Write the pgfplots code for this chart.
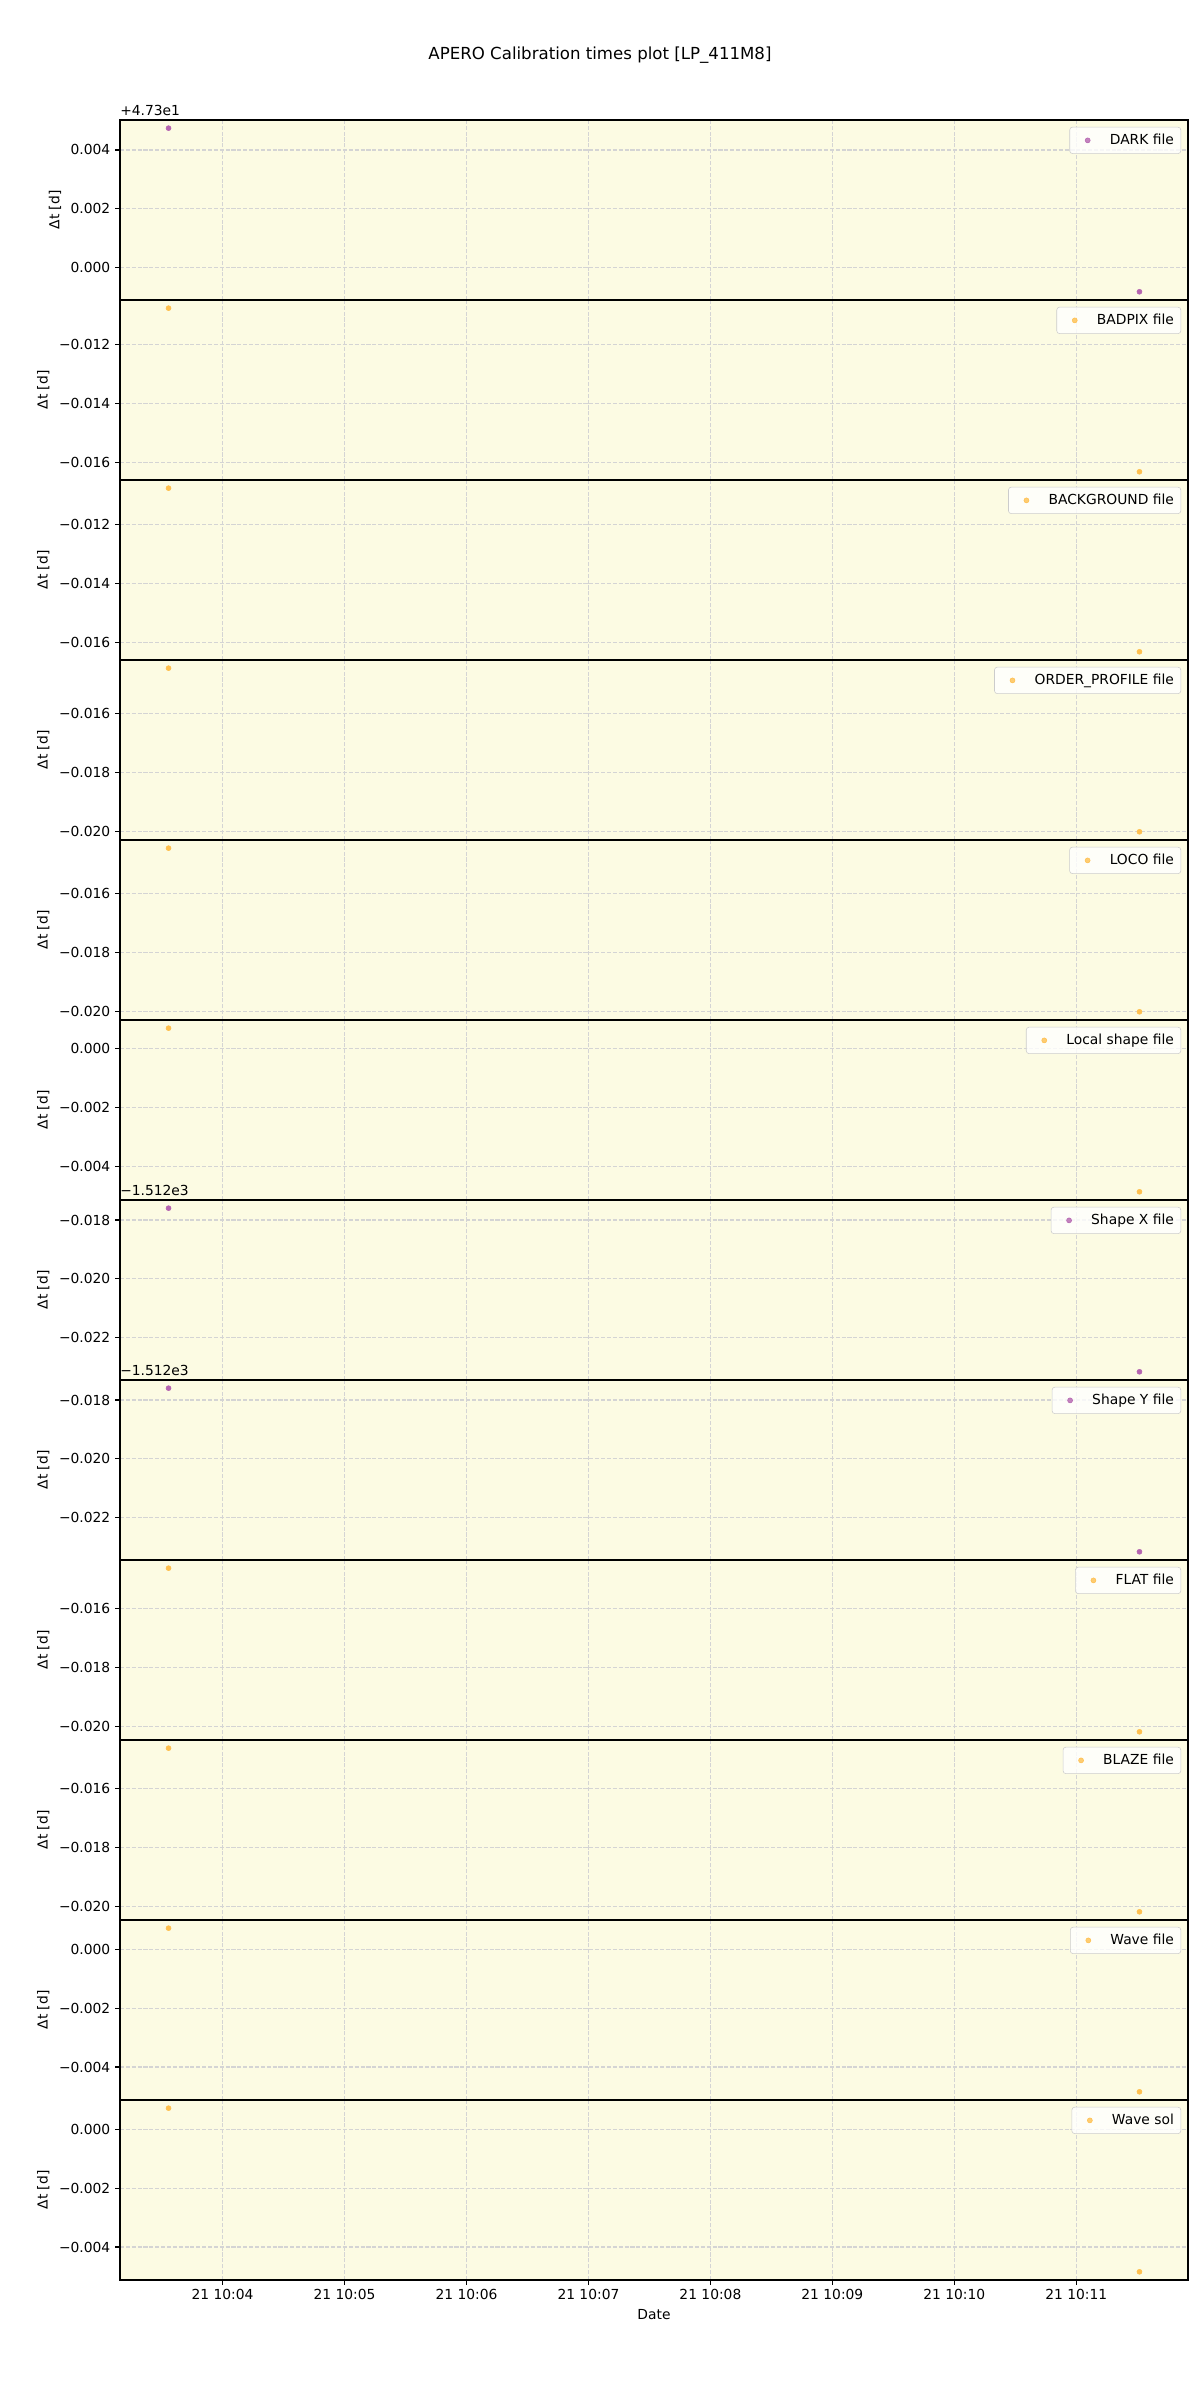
\documentclass[border=0pt]{standalone}
\usepackage{fontspec}
\setmainfont{DejaVu Sans}
\usepackage{pgfplots}
\pgfplotsset{compat=1.18}

\definecolor{bgy}{HTML}{FCFBE3}
\definecolor{gridc}{HTML}{D4D4D4}
\definecolor{purp}{HTML}{B565B0}
\definecolor{orng}{HTML}{FFC04F}

\pgfplotsset{
  panel/.style={
    scale only axis, width=10.68in, height=1.8in, anchor=north west,
    xmin=3.159, xmax=11.916, xtick={4,5,...,11}, xticklabels={},
    axis background/.style={fill=bgy},
    grid=major,
    major grid style={gridc, line width=0.8pt, dash pattern=on 2.96pt off 1.28pt},
    axis line style={line width=0.8pt},
    tick align=outside, xtick pos=bottom, ytick pos=left,
    major tick length=3.5pt, tick style={black, line width=0.8pt},
    xtick style={draw=none},
    ylabel={Δt [d]}, scaled y ticks=false,
    clip mode=individual,
    legend style={at={(1,1)}, anchor=north east, xshift=-5pt, yshift=-5pt,
      draw=black!20, rounded corners=2pt, fill=white, fill opacity=0.8,
      text opacity=1, inner xsep=3pt, inner ysep=3pt},
    legend image code/.code={\path[draw=none] (0pt,0pt) -- (24pt,0pt);
      \draw[#1] plot[only marks] coordinates {(10pt,0pt)};},
  },
  dk/.style={only marks, mark=*, mark size=1.8pt, color=purp},
  og/.style={only marks, mark=*, mark size=1.8pt, color=orng},
}

\begin{document}
\begin{tikzpicture}
\path[use as bounding box] (0,0) rectangle (12in,24in);
\node[font=\fontsize{12}{14}\selectfont] at (6in,23.45in) {APERO Calibration times plot [LP\_411M8]};

% 1 DARK
\begin{axis}[panel, at={(1.2in,22.8in)}, ymin=-0.001094, ymax=0.005018,
  ytick={0,0.002,0.004}, yticklabels={0.000,0.002,0.004},
  after end axis/.code={\node[anchor=south west, inner sep=0pt, yshift=3pt] at (rel axis cs:0,1) {+4.73e1};}]
\addplot[dk] coordinates {(3.557,0.00474) (11.518,-0.000816)};
\addlegendentry{DARK file}
\end{axis}

% 2 BADPIX
\begin{axis}[panel, at={(1.2in,21.0in)}, ymin=-0.016585, ymax=-0.010473,
  ytick={-0.016,-0.014,-0.012}, yticklabels={−0.016,−0.014,−0.012}]
\addplot[og] coordinates {(3.557,-0.010751) (11.518,-0.016307)};
\addlegendentry{BADPIX file}
\end{axis}

% 3 BACKGROUND
\begin{axis}[panel, at={(1.2in,19.2in)}, ymin=-0.016585, ymax=-0.010473,
  ytick={-0.016,-0.014,-0.012}, yticklabels={−0.016,−0.014,−0.012}]
\addplot[og] coordinates {(3.557,-0.010751) (11.518,-0.016307)};
\addlegendentry{BACKGROUND file}
\end{axis}

% 4 ORDER_PROFILE
\begin{axis}[panel, at={(1.2in,17.4in)}, ymin=-0.020282, ymax=-0.01417,
  ytick={-0.020,-0.018,-0.016}, yticklabels={−0.020,−0.018,−0.016}]
\addplot[og] coordinates {(3.557,-0.014448) (11.518,-0.020004)};
\addlegendentry{ORDER\_PROFILE file}
\end{axis}

% 5 LOCO
\begin{axis}[panel, at={(1.2in,15.6in)}, ymin=-0.020282, ymax=-0.01417,
  ytick={-0.020,-0.018,-0.016}, yticklabels={−0.020,−0.018,−0.016}]
\addplot[og] coordinates {(3.557,-0.014448) (11.518,-0.020004)};
\addlegendentry{LOCO file}
\end{axis}

% 6 Local shape
\begin{axis}[panel, at={(1.2in,13.8in)}, ymin=-0.00513, ymax=0.000982,
  ytick={-0.004,-0.002,0}, yticklabels={−0.004,−0.002,0.000}]
\addplot[og] coordinates {(3.557,0.000704) (11.518,-0.004852)};
\addlegendentry{Local shape file}
\end{axis}

% 7 Shape X
\begin{axis}[panel, at={(1.2in,12.0in)}, ymin=-0.023433, ymax=-0.017321,
  ytick={-0.022,-0.020,-0.018}, yticklabels={−0.022,−0.020,−0.018},
  after end axis/.code={\node[anchor=south west, inner sep=0pt, yshift=3pt] at (rel axis cs:0,1) {−1.512e3};}]
\addplot[dk] coordinates {(3.557,-0.017599) (11.518,-0.023155)};
\addlegendentry{Shape X file}
\end{axis}

% 8 Shape Y
\begin{axis}[panel, at={(1.2in,10.2in)}, ymin=-0.023433, ymax=-0.017321,
  ytick={-0.022,-0.020,-0.018}, yticklabels={−0.022,−0.020,−0.018},
  after end axis/.code={\node[anchor=south west, inner sep=0pt, yshift=3pt] at (rel axis cs:0,1) {−1.512e3};}]
\addplot[dk] coordinates {(3.557,-0.017599) (11.518,-0.023155)};
\addlegendentry{Shape Y file}
\end{axis}

% 9 FLAT
\begin{axis}[panel, at={(1.2in,8.4in)}, ymin=-0.020451, ymax=-0.014339,
  ytick={-0.020,-0.018,-0.016}, yticklabels={−0.020,−0.018,−0.016}]
\addplot[og] coordinates {(3.557,-0.014617) (11.518,-0.020173)};
\addlegendentry{FLAT file}
\end{axis}

% 10 BLAZE
\begin{axis}[panel, at={(1.2in,6.6in)}, ymin=-0.020451, ymax=-0.014339,
  ytick={-0.020,-0.018,-0.016}, yticklabels={−0.020,−0.018,−0.016}]
\addplot[og] coordinates {(3.557,-0.014617) (11.518,-0.020173)};
\addlegendentry{BLAZE file}
\end{axis}

% 11 Wave file
\begin{axis}[panel, at={(1.2in,4.8in)}, ymin=-0.005119, ymax=0.000993,
  ytick={-0.004,-0.002,0}, yticklabels={−0.004,−0.002,0.000}]
\addplot[og] coordinates {(3.557,0.000715) (11.518,-0.004841)};
\addlegendentry{Wave file}
\end{axis}

% 12 Wave sol
\begin{axis}[panel, at={(1.2in,3.0in)}, ymin=-0.005119, ymax=0.000993,
  ytick={-0.004,-0.002,0}, yticklabels={−0.004,−0.002,0.000},
  xticklabels={21 10:04,21 10:05,21 10:06,21 10:07,21 10:08,21 10:09,21 10:10,21 10:11},
  xtick style={draw=black, line width=0.8pt}, xlabel={Date}]
\addplot[og] coordinates {(3.557,0.000715) (11.518,-0.004841)};
\addlegendentry{Wave sol}
\end{axis}
\end{tikzpicture}
\end{document}
